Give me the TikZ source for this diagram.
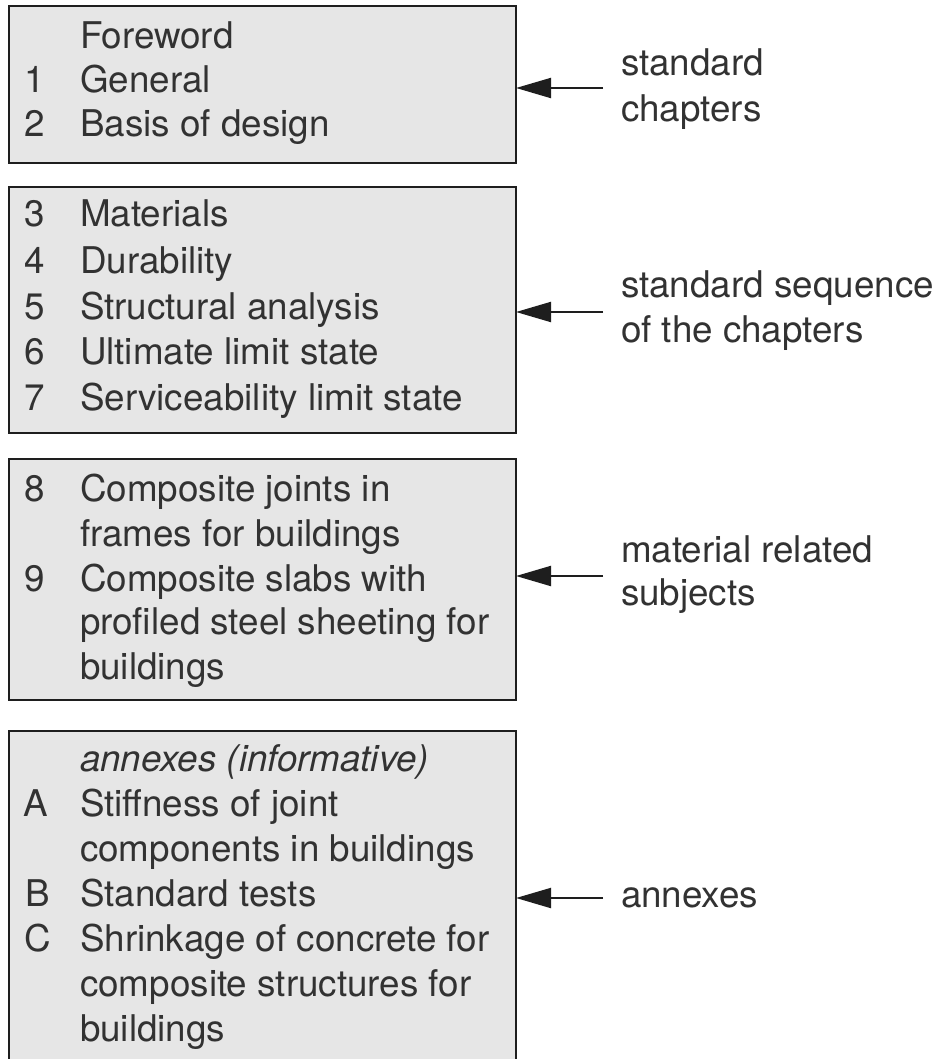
\documentclass[tikz,border=0pt]{standalone}
\usepackage{fontspec}
\setmainfont{TeX Gyre Heros}
\usetikzlibrary{arrows.meta}
\definecolor{boxfill}{RGB}{230,230,230}
\definecolor{boxline}{RGB}{30,30,30}
\definecolor{textgray}{RGB}{50,50,50}
\tikzset{
  panel/.style={draw=boxline, fill=boxfill, line width=2pt, rectangle, inner sep=0pt, outer sep=0pt, anchor=north west, minimum width=507pt},
  txt/.style={anchor=base west, inner sep=0pt, outer sep=0pt, font=\fontsize{36.8}{45}\selectfont, text=textgray},
  pointer/.style={draw=boxline, line width=2pt, -{Triangle[length=35pt,width=20pt]}}
}
\begin{document}
\begin{tikzpicture}[x=1pt,y=-1pt]
\useasboundingbox (0,0) rectangle (932,1059);
\clip (0,0) rectangle (932,1059);
% boxes
\node[panel, minimum height=157pt] (b1) at (9,6) {};
\node[panel, minimum height=246pt] (b2) at (9,187) {};
\node[panel, minimum height=241pt] (b3) at (9,459) {};
\node[panel, minimum height=349pt] (b4) at (9,731) {};
% box 1
\node[txt] (t1a) at (80,49) {Foreword};
\node[txt] (n1) at (24,93) {1};
\node[txt] (t1b) at (80,93) {General};
\node[txt] (n2) at (24,137) {2};
\node[txt] (t1c) at (80,137) {Basis of design};
% box 2
\node[txt] (n3) at (24,227) {3};
\node[txt] (t2a) at (80,227) {Materials};
\node[txt] (n4) at (24,273) {4};
\node[txt] (t2b) at (80,273) {Durability};
\node[txt] (n5) at (24,319) {5};
\node[txt] (t2c) at (80,319) {Structural analysis};
\node[txt] (n6) at (24,364) {6};
\node[txt] (t2d) at (80,364) {Ultimate limit state};
\node[txt] (n7) at (24,410) {7};
\node[txt] (t2e) at (80,410) {Serviceability limit state};
% box 3
\node[txt] (n8) at (24,501) {8};
\node[txt] (t3a) at (80,501) {Composite joints in};
\node[txt] (t3b) at (80,546) {frames for buildings};
\node[txt] (n9) at (24,591) {9};
\node[txt] (t3c) at (80,591) {Composite slabs with};
\node[txt] (t3d) at (80,634) {profiled steel sheeting for};
\node[txt] (t3e) at (80,679) {buildings};
% box 4
\node[txt] (t4a) at (80,771) {\itshape annexes (informative)};
\node[txt] (nA) at (23,816) {A};
\node[txt] (t4b) at (80,816) {Stiffness of joint};
\node[txt] (t4c) at (80,861) {components in buildings};
\node[txt] (nB) at (25,906) {B};
\node[txt] (t4d) at (80,906) {Standard tests};
\node[txt] (nC) at (24,951) {C};
\node[txt] (t4e) at (80,951) {Shrinkage of concrete for};
\node[txt] (t4f) at (80,996) {composite structures for};
\node[txt] (t4g) at (80,1041) {buildings};
% labels
\node[txt] (l1a) at (621,76) {standard};
\node[txt] (l1b) at (621,122) {chapters};
\node[txt] (l2a) at (621,297) {standard sequence};
\node[txt] (l2b) at (621,342) {of the chapters};
\node[txt] (l3a) at (621,562) {material related};
\node[txt] (l3b) at (621,605) {subjects};
\node[txt] (l4a) at (621,907) {annexes};
% arrows
\coordinate (a1) at (603,88);
\coordinate (a2) at (603,312);
\coordinate (a3) at (603,576);
\coordinate (a4) at (603,898);
\draw[pointer] (a1) -- (a1 -| b1.east);
\draw[pointer] (a2) -- (a2 -| b2.east);
\draw[pointer] (a3) -- (a3 -| b3.east);
\draw[pointer] (a4) -- (a4 -| b4.east);
\end{tikzpicture}
\end{document}
